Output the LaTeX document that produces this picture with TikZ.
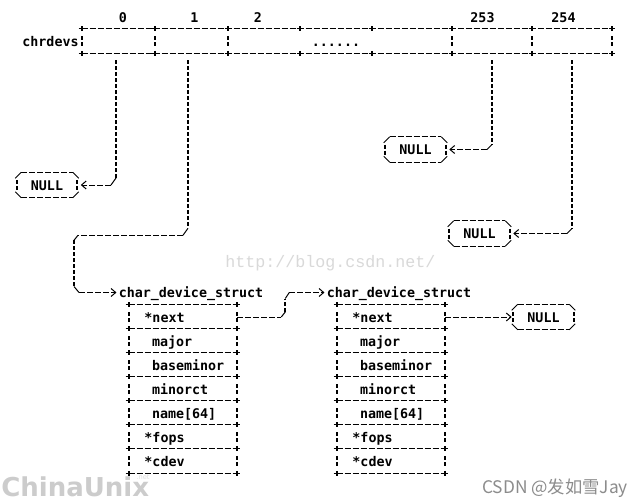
\documentclass[tikz,border=0pt]{standalone}
\usepackage{fontspec}
\setmainfont{DejaVu Sans}
\newfontfamily\ascfont{DejaVu Sans Mono}
\newfontfamily\wmfont{Liberation Mono}
\newfontfamily\logofont{DejaVu Sans}
\newfontfamily\cjkfont{Noto Sans CJK SC}
\usetikzlibrary{calc,arrows.meta}
\newcommand\plusmark[1]{\draw[crossv] ($#1+(0,-2.5)$) -- ($#1+(0,2.5)$); \draw[crossh] ($#1+(-3,0)$) -- ($#1+(3,0)$);}
\newcommand\brkbar[1]{\draw[vl] ($#1+(0,-5)$) -- ($#1+(0,5)$);}
\newcommand\nullframe[1]{%
  \draw[hl] ($(#1.north west)+(6,0)$) -- ($(#1.north east)+(-6,0)$);
  \draw[hl] ($(#1.south west)+(6,0)$) -- ($(#1.south east)+(-6,0)$);
  \draw[sl] ($(#1.north west)+(0,6)$) -- ($(#1.north west)+(6,0)$)
            ($(#1.north east)+(-6,0)$) -- ($(#1.north east)+(0,6)$)
            ($(#1.south west)+(0,-6)$) -- ($(#1.south west)+(6,0)$)
            ($(#1.south east)+(-6,0)$) -- ($(#1.south east)+(0,-6)$);
  \draw[vl] ($(#1.west)+(1.5,-5)$) -- ($(#1.west)+(1.5,5)$);
  \draw[vl] ($(#1.east)+(-1.5,-5)$) -- ($(#1.east)+(-1.5,5)$);}
\newcommand\indA{\hspace*{11.6pt}}
\newcommand\indB{\hspace*{17.25pt}}
\begin{document}
\begin{tikzpicture}[x=0.75pt,y=-0.75pt,
  txt/.style={font=\ascfont\bfseries\fontsize{10pt}{12pt}\selectfont, inner sep=0pt, text height=7.7pt, text depth=0pt},
  hdr/.style={txt, inner xsep=1.5pt},
  slot/.style={minimum height=18pt, inner sep=0pt},
  field/.style={txt, text width=81pt, align=left, minimum height=18pt},
  nullbox/.style={txt, minimum width=47.25pt, minimum height=18.75pt},
  hl/.style={line width=0.75pt, dash pattern=on 4.5pt off 1.5pt},
  vl/.style={line width=1.3pt, dash pattern=on 3pt off 1.5pt},
  sl/.style={line width=0.75pt},
  crossv/.style={line width=1.3pt},
  crossh/.style={line width=0.75pt},
  tip/.style={-{Straight Barb[length=3.5pt,width=6pt,line width=0.75pt]}},
  wmark/.style={inner sep=0pt, anchor=base west}
]
\useasboundingbox (0,0) rectangle (640,504);
\fill[white] (0,0) rectangle (640,504);

% watermarks
\node[wmark, font=\wmfont\fontsize{12.5pt}{14pt}\selectfont, text=black!15] (wm1) at (225,267) {http://blog.csdn.net/};
\node[wmark, font=\logofont\bfseries\fontsize{19.5pt}{21pt}\selectfont, text=black!20] (wm2) at (1,496) {ChinaUnix};
\node[inner sep=0pt, font=\logofont\fontsize{5pt}{6pt}\selectfont, text=black!12] (wm3) at (143,477) {.net};
\node[wmark, font=\cjkfont\fontsize{13pt}{15pt}\selectfont, text=black!45] (wm4) at (482,493) {CSDN @发如雪Jay};

% array
\node[txt] (chr) at (50.5,41.5) {chrdevs};
\node[txt] (l0) at (123,17.5) {0};
\node[txt] (l1) at (194.5,17.5) {1};
\node[txt] (l2) at (258,17.5) {2};
\node[txt] (l253) at (482.5,17.5) {253};
\node[txt] (l254) at (563.5,17.5) {254};

\node[slot, minimum width=54.75pt] (s0) at (118.5,41) {};
\node[slot, minimum width=54.75pt] (s1) at (191.5,41) {};
\node[slot, minimum width=54pt] (s2) at (264,41) {};
\node[slot, txt, minimum width=54pt] (s3) at (336,41) {......};
\node[slot, minimum width=60pt] (s4) at (412,41) {};
\node[slot, minimum width=60pt] (s253) at (492,41) {};
\node[slot, minimum width=60pt] (s254) at (572,41) {};

\draw[hl] (s0.north west) -- (s254.north east);
\draw[hl] (s0.south west) -- (s254.south east);
\foreach \sn in {s0,s1,s2,s3,s4,s253,s254}{\plusmark{(\sn.north west)}\plusmark{(\sn.south west)}}
\plusmark{(s254.north east)}\plusmark{(s254.south east)}
\foreach \sn in {s0,s1,s2,s253,s254}{\brkbar{(\sn.west)}}
\brkbar{(s254.east)}

% NULL boxes
\node[nullbox] (n0) at (47,185) {NULL};
\node[nullbox] (n253) at (415.5,149.5) {NULL};
\node[nullbox] (n254) at (479.5,233.5) {NULL};
\node[nullbox] (n5) at (543.5,317) {NULL};
\nullframe{n0}
\nullframe{n253}
\nullframe{n254}
\nullframe{n5}

% structs
\node[hdr] (h1) at (191,292.5) {char\_device\_struct};
\node[hdr] (h2) at (399,292.5) {char\_device\_struct};

\node[field] (t1r1) at (183,317) {\indA *next};
\node[field] (t1r2) at (183,341) {\indB major};
\node[field] (t1r3) at (183,365) {\indB baseminor};
\node[field] (t1r4) at (183,389) {\indB minorct};
\node[field] (t1r5) at (183,413) {\indB name[64]};
\node[field] (t1r6) at (183,437) {\indA *fops};
\node[field] (t1r7) at (183,461) {\indA *cdev};

\node[field] (t2r1) at (391,317) {\indA *next};
\node[field] (t2r2) at (391,341) {\indB major};
\node[field] (t2r3) at (391,365) {\indB baseminor};
\node[field] (t2r4) at (391,389) {\indB minorct};
\node[field] (t2r5) at (391,413) {\indB name[64]};
\node[field] (t2r6) at (391,437) {\indA *fops};
\node[field] (t2r7) at (391,461) {\indA *cdev};

\foreach \tb in {t1,t2}{
  \foreach \rw in {1,...,7}{
    \draw[hl] (\tb r\rw.north west) -- (\tb r\rw.north east);
    \plusmark{(\tb r\rw.north west)}\plusmark{(\tb r\rw.north east)}
    \brkbar{(\tb r\rw.west)}\brkbar{(\tb r\rw.east)}
  }
  \draw[hl] (\tb r7.south west) -- (\tb r7.south east);
  \plusmark{(\tb r7.south west)}\plusmark{(\tb r7.south east)}
}

% connector slot 0 -> NULL
\coordinate (a0) at ($(s0.south)+(-2.5,7)$);
\draw[vl] (a0) -- ($(a0 |- n0.east)+(0,-7)$) coordinate (b0);
\draw[sl] (b0) -- ++(-5,7) coordinate (c0);
\draw[hl,tip] (c0) -- ($(n0.east)+(2,0)$);

% connector slot 1 -> struct 1
\coordinate (a1) at ($(s1.south)+(-3.5,7)$);
\draw[vl] (a1) -- ++(0,168) coordinate (p1);
\draw[sl] (p1) -- ++(-5,7) coordinate (p2);
\draw[hl] (p2) -- ++(-105,0) coordinate (p3);
\draw[sl] (p3) -- ++(-4,5) coordinate (p4);
\draw[vl] (p4) -- ($(p4 |- h1.west)+(0,-6)$) coordinate (p5);
\draw[sl] (p5) -- ++(5,6) coordinate (p6);
\draw[hl,tip] (p6) -- (h1.west);

% connector struct 1 next -> struct 2
\draw[hl] (t1r1.east) -- ++(44,0) coordinate (q1);
\draw[sl] (q1) -- ++(4,-5) coordinate (q2);
\draw[vl] (q2) -- ($(q2 |- h2.west)+(0,6)$) coordinate (q3);
\draw[sl] (q3) -- ++(4,-6) coordinate (q4);
\draw[hl,tip] (q4) -- (h2.west);

% connector struct 2 next -> NULL
\draw[hl,tip] (t2r1.east) -- (n5.west);

% connector slot 253 -> NULL
\coordinate (a253) at ($(s253.south)+(0,7)$);
\draw[vl] (a253) -- ($(a253 |- n253.east)+(0,-5)$) coordinate (r1);
\draw[sl] (r1) -- ++(-5,5) coordinate (r2);
\draw[hl,tip] (r2) -- ($(n253.east)+(2,0)$);

% connector slot 254 -> NULL
\coordinate (a254) at ($(s254.south)+(0,7)$);
\draw[vl] (a254) -- ($(a254 |- n254.east)+(0,-5)$) coordinate (u1);
\draw[sl] (u1) -- ++(-5,5) coordinate (u2);
\draw[hl,tip] (u2) -- ($(n254.east)+(2,0)$);
\end{tikzpicture}
\end{document}
